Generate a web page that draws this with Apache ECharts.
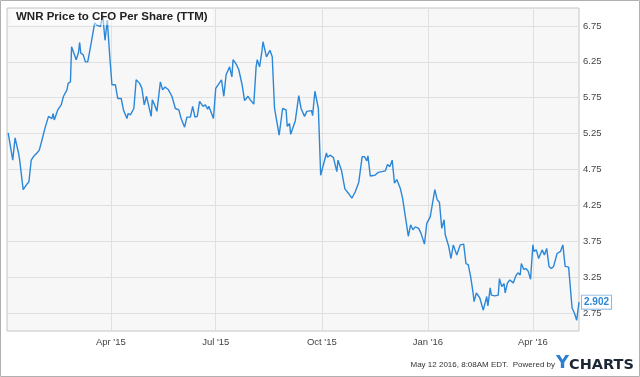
<!DOCTYPE html>
<html>
<head>
<meta charset="utf-8">
<script src="https://cdn.jsdelivr.net/npm/echarts@6/dist/echarts.min.js"></script>
<style>
  html, body { margin: 0; padding: 0; background: #fff; }
  #chart { width: 640px; height: 377px; }
</style>
</head>
<body>
<div id="chart"></div>
<script>
// price to CFO per share
var dates = [
  '2015-01-02', '2015-01-06', '2015-01-08', '2015-01-11', '2015-01-12', '2015-01-15', '2015-01-18', '2015-01-20',
  '2015-01-22', '2015-01-24', '2015-01-27', '2015-01-29', '2015-01-31', '2015-02-03', '2015-02-06', '2015-02-09',
  '2015-02-10', '2015-02-11', '2015-02-14', '2015-02-17', '2015-02-19', '2015-02-22', '2015-02-23', '2015-02-25',
  '2015-02-26', '2015-02-27', '2015-03-02', '2015-03-04', '2015-03-05', '2015-03-06', '2015-03-08', '2015-03-10',
  '2015-03-12', '2015-03-15', '2015-03-18', '2015-03-20', '2015-03-23', '2015-03-25', '2015-03-27', '2015-03-29',
  '2015-03-31', '2015-04-02', '2015-04-05', '2015-04-07', '2015-04-10', '2015-04-12', '2015-04-15', '2015-04-16',
  '2015-04-18', '2015-04-21', '2015-04-23', '2015-04-26', '2015-04-28', '2015-04-30', '2015-05-02', '2015-05-03',
  '2015-05-06', '2015-05-07', '2015-05-09', '2015-05-11', '2015-05-14', '2015-05-16', '2015-05-18', '2015-05-21',
  '2015-05-24', '2015-05-27', '2015-05-30', '2015-06-01', '2015-06-04', '2015-06-06', '2015-06-09', '2015-06-11',
  '2015-06-13', '2015-06-15', '2015-06-17', '2015-06-20', '2015-06-22', '2015-06-24', '2015-06-25', '2015-06-29',
  '2015-07-01', '2015-07-06', '2015-07-08', '2015-07-10', '2015-07-13', '2015-07-15', '2015-07-16', '2015-07-19',
  '2015-07-21', '2015-07-24', '2015-07-26', '2015-07-29', '2015-07-31', '2015-08-03', '2015-08-05', '2015-08-06',
  '2015-08-08', '2015-08-10', '2015-08-11', '2015-08-14', '2015-08-17', '2015-08-19', '2015-08-21', '2015-08-25',
  '2015-08-28', '2015-08-31', '2015-09-01', '2015-09-03', '2015-09-04', '2015-09-08', '2015-09-11', '2015-09-13',
  '2015-09-16', '2015-09-18', '2015-09-22', '2015-09-23', '2015-09-25', '2015-09-28', '2015-09-30', '2015-10-05',
  '2015-10-06', '2015-10-08', '2015-10-11', '2015-10-14', '2015-10-15', '2015-10-18', '2015-10-21', '2015-10-24',
  '2015-10-27', '2015-10-30', '2015-11-02', '2015-11-05', '2015-11-07', '2015-11-09', '2015-11-10', '2015-11-12',
  '2015-11-16', '2015-11-19', '2015-11-22', '2015-11-25', '2015-11-27', '2015-11-29', '2015-12-01', '2015-12-03',
  '2015-12-05', '2015-12-08', '2015-12-10', '2015-12-12', '2015-12-15', '2015-12-17', '2015-12-19', '2015-12-21',
  '2015-12-24', '2015-12-26', '2015-12-29', '2015-12-31', '2016-01-03', '2016-01-05', '2016-01-07', '2016-01-09',
  '2016-01-11', '2016-01-13', '2016-01-15', '2016-01-16', '2016-01-19', '2016-01-21', '2016-01-23', '2016-01-26',
  '2016-01-29', '2016-02-01', '2016-02-03', '2016-02-05', '2016-02-07', '2016-02-09', '2016-02-10', '2016-02-12',
  '2016-02-15', '2016-02-18', '2016-02-21', '2016-02-22', '2016-02-24', '2016-02-25', '2016-02-28', '2016-03-02',
  '2016-03-03', '2016-03-05', '2016-03-07', '2016-03-08', '2016-03-10', '2016-03-12', '2016-03-15', '2016-03-17',
  '2016-03-19', '2016-03-21', '2016-03-22', '2016-03-24', '2016-03-26', '2016-03-28', '2016-03-30', '2016-04-01',
  '2016-04-02', '2016-04-04', '2016-04-06', '2016-04-09', '2016-04-11', '2016-04-13', '2016-04-15', '2016-04-17',
  '2016-04-19', '2016-04-22', '2016-04-25', '2016-04-27', '2016-04-29', '2016-05-02', '2016-05-05', '2016-05-07',
  '2016-05-09', '2016-05-11'
];
var values = [
  5.26, 4.88, 5.19, 4.98, 4.88, 4.47, 4.54, 4.58,
  4.88, 4.93, 4.98, 5.02, 5.14, 5.33, 5.49, 5.46,
  5.53, 5.44, 5.58, 5.65, 5.77, 5.86, 5.95, 5.97,
  6.46, 6.45, 6.28, 6.38, 6.52, 6.37, 6.35, 6.25,
  6.25, 6.51, 6.79, 6.76, 6.74, 6.90, 6.55, 6.83,
  6.35, 5.93, 5.93, 5.74, 5.74, 5.58, 5.46, 5.53,
  5.51, 5.60, 6.00, 5.95, 5.88, 5.65, 5.77, 5.70,
  5.49, 5.72, 5.65, 5.56, 5.97, 5.86, 5.90, 5.86,
  5.77, 5.60, 5.58, 5.46, 5.34, 5.48, 5.48, 5.63,
  5.48, 5.49, 5.70, 5.63, 5.65, 5.59, 5.63, 5.46,
  5.88, 6.00, 5.77, 6.07, 6.18, 6.04, 6.28, 6.21,
  6.14, 5.92, 5.71, 5.77, 5.72, 5.66, 6.18, 6.28,
  6.18, 6.39, 6.53, 6.32, 6.41, 6.32, 5.60, 5.23,
  5.60, 5.58, 5.35, 5.39, 5.24, 5.43, 5.78, 5.60,
  5.49, 5.56, 5.57, 5.50, 5.84, 5.60, 4.67, 4.98,
  4.92, 4.95, 4.92, 4.72, 4.88, 4.74, 4.48, 4.42,
  4.35, 4.44, 4.57, 4.93, 4.93, 4.87, 4.94, 4.66,
  4.67, 4.71, 4.72, 4.73, 4.82, 4.79, 4.88, 4.56,
  4.61, 4.49, 4.35, 4.14, 3.82, 3.98, 3.91, 3.95,
  3.93, 3.86, 3.71, 4.00, 4.09, 4.28, 4.47, 4.33,
  4.29, 3.93, 4.05, 3.84, 3.68, 3.51, 3.70, 3.56,
  3.70, 3.71, 3.44, 3.42, 3.26, 3.05, 2.91, 3.03,
  2.96, 2.79, 2.98, 2.85, 3.10, 3.00, 2.99, 3.00,
  3.23, 3.12, 3.16, 3.03, 3.17, 3.21, 3.17, 3.26,
  3.31, 3.28, 3.44, 3.36, 3.37, 3.33, 3.22, 3.70,
  3.61, 3.63, 3.51, 3.63, 3.56, 3.65, 3.40, 3.37,
  3.40, 3.58, 3.61, 3.70, 3.40, 3.39, 2.82, 2.75,
  2.65, 2.902
];
var yTicks = [2.75, 3.25, 3.75, 4.25, 4.75, 5.25, 5.75, 6.25, 6.75];
var xTicks = ['2015-04-01', '2015-07-01', '2015-10-01', '2016-01-01', '2016-04-01'];
var xTickLabels = ["Apr '15", "Jul '15", "Oct '15", "Jan '16", "Apr '16"];

var blue = '#2b87d8';
var font = 'Liberation Sans, Arial, sans-serif';

// dates -> day numbers, so a plain value axis can carry the custom quarter ticks
function toDay(s) {
  var p = s.split('-');
  return Date.UTC(+p[0], +p[1] - 1, +p[2]) / 864e5;
}
var xTickDays = xTicks.map(toDay);

var chart = echarts.init(document.getElementById('chart'), null, { renderer: 'canvas' });

chart.setOption({
  animation: false,
  title: {
    text: 'WNR Price to CFO Per Share (TTM)',
    left: 11,
    top: 9,
    padding: [2, 5, 2, 5],
    backgroundColor: 'rgba(255,255,255,0.5)',
    textStyle: {
      fontFamily: font,
      fontSize: 11.5,
      fontWeight: 'bold',
      color: '#222'
    }
  },
  grid: {
    left: 7,
    right: 61,
    top: 8,
    bottom: 46,
    show: true,
    backgroundColor: '#f7f7f7',
    borderColor: '#c4c4c4',
    borderWidth: 1
  },
  xAxis: {
    type: 'value',
    min: toDay('2015-01-01'),
    max: toDay('2016-05-11'),
    axisLine: { show: false },
    axisTick: { show: false, customValues: xTickDays },
    splitLine: { show: true, lineStyle: { color: '#e0e0e0', width: 1 } },
    axisLabel: {
      customValues: xTickDays,
      margin: 6,
      fontFamily: font,
      fontSize: 9.5,
      color: '#444',
      formatter: function (v) {
        var i = xTickDays.indexOf(v);
        return i >= 0 ? xTickLabels[i] : '';
      }
    }
  },
  yAxis: {
    type: 'value',
    position: 'right',
    min: 2.5,
    max: 7,
    axisLine: { show: false },
    axisTick: { show: false, customValues: yTicks },
    splitLine: { show: true, lineStyle: { color: '#e0e0e0', width: 1 } },
    axisLabel: {
      customValues: yTicks,
      margin: 4,
      fontFamily: font,
      fontSize: 9.5,
      color: '#444',
      formatter: function (v) { return v.toFixed(2); }
    }
  },
  series: [{
    type: 'line',
    showSymbol: false,
    data: dates.map(function (d, i) { return [toDay(d), values[i]]; }),
    lineStyle: { color: blue, width: 1.4 },
    itemStyle: { color: blue },
    endLabel: {
      show: true,
      distance: 3,
      formatter: function (p) { return p.value[1].toFixed(3); },
      fontFamily: font,
      fontSize: 10,
      fontWeight: 'bold',
      color: blue,
      backgroundColor: '#fff',
      borderColor: '#8fb8e0',
      borderWidth: 1,
      padding: [2, 2, 1, 2]
    }
  }],
  graphic: [
    {
      type: 'rect',
      shape: { x: 0.5, y: 0.5, width: 639, height: 376 },
      style: { fill: 'none', stroke: '#b0b0b0', lineWidth: 1 },
      silent: true
    },
    {
      type: 'text',
      x: 555,
      y: 365,
      style: {
        text: 'May 12 2016, 8:08AM EDT.  Powered by',
        font: '8px "Liberation Sans", Arial, sans-serif',
        fill: '#333',
        align: 'right',
        verticalAlign: 'middle'
      }
    },
    {
      type: 'text',
      x: 556,
      y: 363.5,
      style: {
        text: 'Y',
        font: 'bold 18px "DejaVu Sans", sans-serif',
        fill: '#2a7fd1',
        verticalAlign: 'middle'
      }
    },
    {
      type: 'text',
      x: 569,
      y: 365.5,
      style: {
        text: 'CHARTS',
        font: 'bold 14.5px "DejaVu Sans", sans-serif',
        fill: '#1c2634',
        verticalAlign: 'middle'
      }
    }
  ]
});
</script>
</body>
</html>
